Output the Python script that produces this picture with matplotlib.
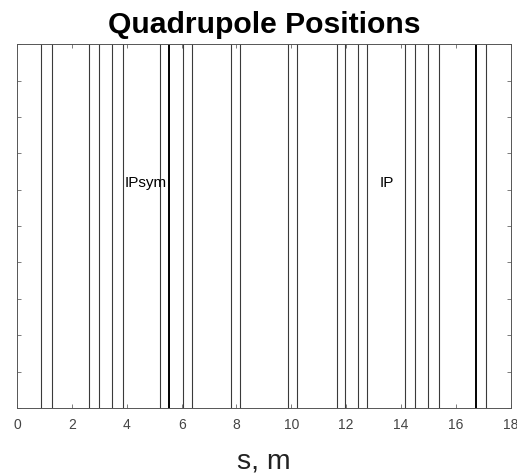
import numpy as np
import matplotlib.pyplot as plt

plt.rcParams['font.family'] = ['Liberation Sans', 'DejaVu Sans']

# quadrupole positions along the beamline, m
quad_s = [0.875, 1.26, 2.64, 2.98, 3.45, 3.85, 5.22, 6.04, 6.38, 7.80, 8.13,
          9.86, 10.22, 11.65, 11.97, 12.42, 12.77, 14.14, 14.50, 14.97, 15.37, 17.09]
# the two doubled quads drawn heavier
quad_s_thick = [5.55, 16.74]

marker_labels = ["IPsym", "IP"]
marker_s = [3.93, 13.2]
marker_y = [0.618, 0.618]

fig = plt.figure(figsize=(5.17, 4.75), dpi=100)
ax = fig.add_axes([0.033, 0.141, 0.955, 0.766])

for s in quad_s:
    ax.axvline(s, color='#3a3a3a', linewidth=0.8)
for s in quad_s_thick:
    ax.axvline(s, color='black', linewidth=1.4)

for lab, s, y in zip(marker_labels, marker_s, marker_y):
    ax.text(s, y, lab, fontsize=11, ha='left', va='center', color='black')

ax.set_xlim(0, 18)
ax.set_ylim(0, 1)
ax.set_xticks(np.arange(0, 19, 2))
ax.set_yticks(np.arange(0, 1.01, 0.1))
ax.set_yticklabels([])
ax.tick_params(direction='in', top=True, right=True, length=3, width=0.6,
               labelsize=10, labelcolor='#444444', colors='#666666', pad=7)
for sp in ax.spines.values():
    sp.set_color('#555555')
    sp.set_linewidth(0.7)

ax.set_title("Quadrupole Positions", fontsize=21.7, fontweight='bold', pad=8)
ax.set_xlabel("s, m", fontsize=20.5, color='#222222', labelpad=12)

fig.savefig("out.png", dpi=100)
